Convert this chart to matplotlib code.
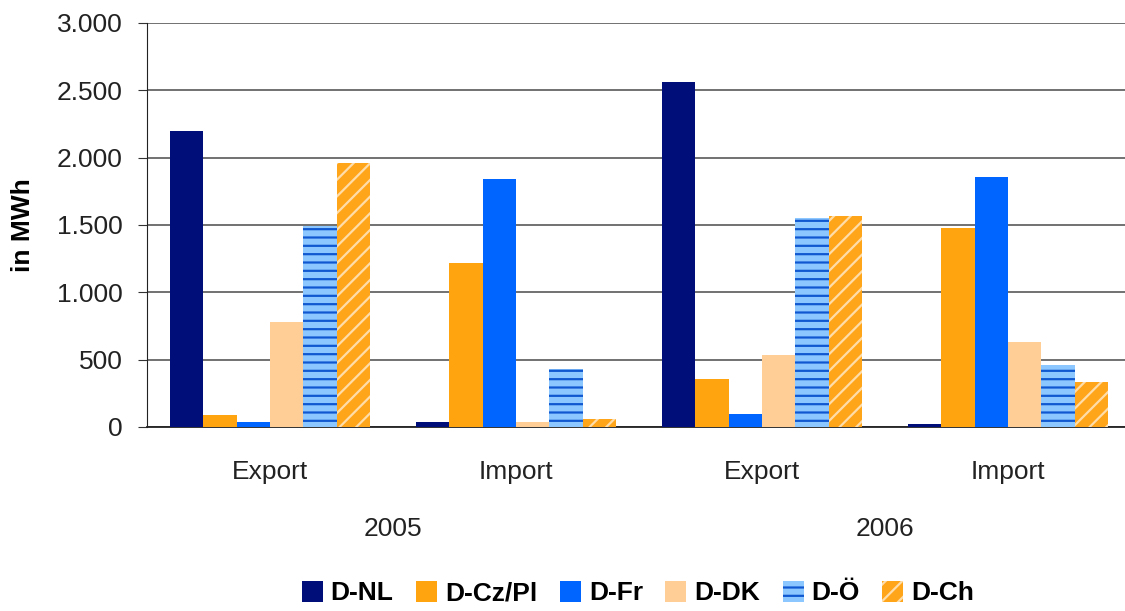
import matplotlib.pyplot as plt
import matplotlib.transforms as mtransforms
from matplotlib.patches import Patch
import numpy as np

plt.rcParams['font.family'] = ['Liberation Sans', 'DejaVu Sans']
plt.rcParams['hatch.linewidth'] = 1.6

# Data
categories = ['Export', 'Import', 'Export', 'Import']
years = ['2005', '2006']
series_names = ['D-NL', 'D-Cz/Pl', 'D-Fr', 'D-DK', 'D-Ö', 'D-Ch']
d_nl = [2200, 40, 2560, 25]
d_czpl = [90, 1215, 360, 1475]
d_fr = [40, 1840, 100, 1855]
d_dk = [780, 40, 535, 633]
d_oe = [1495, 430, 1555, 460]
d_ch = [1960, 60, 1570, 332]
series_values = [d_nl, d_czpl, d_fr, d_dk, d_oe, d_ch]

face_colors = ['#000E7A', '#FFA30F', '#0064FF', '#FFCE96', '#8CC8FF', '#FFA51A']
hatch_colors = [None, None, None, None, '#1058D0', '#FFDDA8']
hatches = [None, None, None, None, '--', '//']

fig = plt.figure(figsize=(11.25, 6.11), dpi=100)
ax = fig.add_axes([147 / 1125, 1 - 427 / 611, 984 / 1125, 404 / 611])

x = np.arange(len(categories))
n = len(series_names)
width = 0.813 / n
for i, (name, vals) in enumerate(zip(series_names, series_values)):
    pos = x - 0.813 / 2 + width * (i + 0.5)
    if hatches[i]:
        ax.bar(pos, vals, width, color=face_colors[i], edgecolor=hatch_colors[i],
               hatch=hatches[i], linewidth=0, zorder=3)
    else:
        ax.bar(pos, vals, width, color=face_colors[i], linewidth=0, zorder=3)

ax.set_xlim(-0.5, 3.5)
ax.set_ylim(0, 3000)
ax.set_yticks(range(0, 3001, 500))
ax.set_yticklabels(['0', '500', '1.000', '1.500', '2.000', '2.500', '3.000'])
ax.tick_params(axis='y', labelsize=19, length=6.5, color='#333333', labelcolor='#222222', pad=11)
ax.set_xticks([])
ax.grid(True, axis='y', color='#4a4a4a', linewidth=1.1, zorder=0)
for side in ['top', 'right']:
    ax.spines[side].set_visible(False)
ax.spines['left'].set_color('#222222')
ax.spines['bottom'].set_color('#222222')
ax.spines['bottom'].set_linewidth(1.3)

ax.set_ylabel('in MWh', fontsize=19, fontweight='bold')
ax.yaxis.set_label_coords(-0.114, 0.5)

trans = mtransforms.blended_transform_factory(ax.transData, ax.transAxes)
for xi, cat in zip(x, categories):
    ax.text(xi, -45 / 404, cat, transform=trans, ha='center', va='center',
            fontsize=19, color='#222222')
for k, yr in enumerate(years):
    ax.text(2 * k + 0.5, -102 / 404, yr, transform=trans, ha='center', va='center',
            fontsize=19, color='#222222')

handles = []
for i, name in enumerate(series_names):
    if hatches[i]:
        handles.append(Patch(facecolor=face_colors[i], edgecolor=hatch_colors[i],
                             hatch=hatches[i], linewidth=0, label=name))
    else:
        handles.append(Patch(facecolor=face_colors[i], linewidth=0, label=name))
fig.legend(handles=handles, loc='center', bbox_to_anchor=(638 / 1125, 1 - 593 / 611),
           ncol=6, frameon=False, handlelength=0.8, handleheight=0.85,
           handletextpad=0.3, columnspacing=0.85,
           prop={'weight': 'bold', 'size': 19})

fig.savefig('out.png', dpi=100)
